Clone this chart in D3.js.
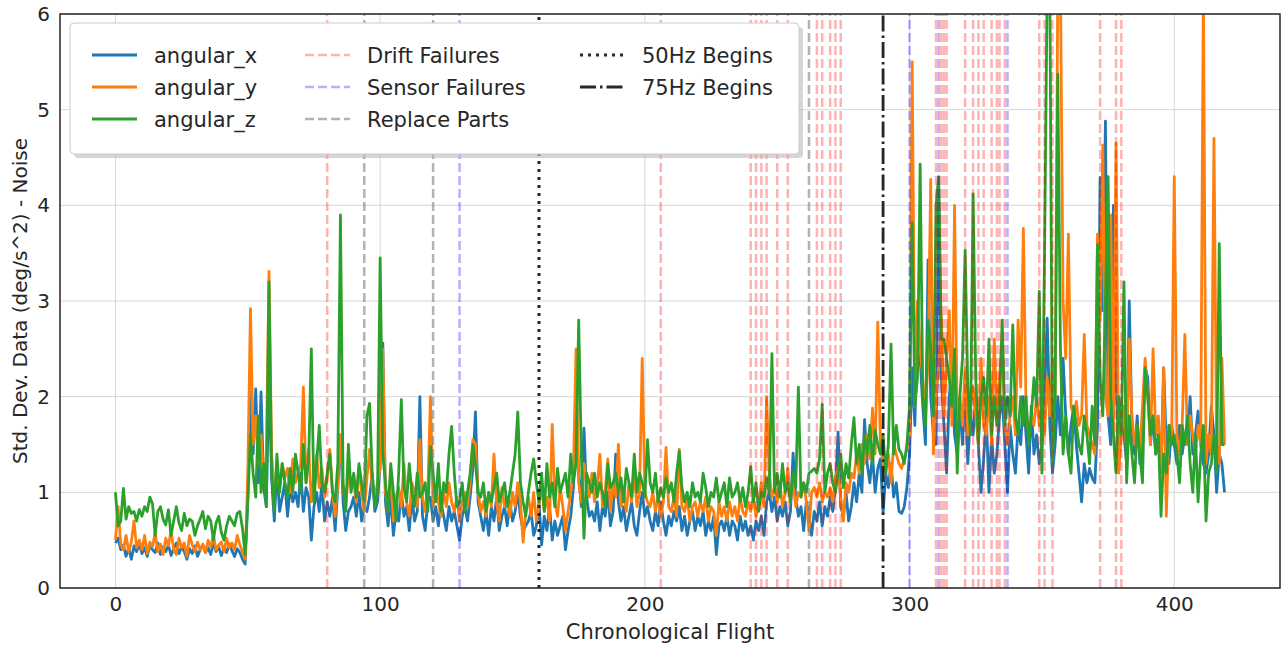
<!DOCTYPE html>
<html lang="en">
<head>
  <meta charset="UTF-8">
  <title>Noise per flight</title>
  <script src="https://cdn.jsdelivr.net/npm/d3@7"></script>
  <style>
    body { margin: 0; background: #fff; }
    svg text { font-family: 'DejaVu Sans', sans-serif; fill: #262626; }
    .tick text { font-size: 20px; fill: #262626; }
    .grid line { stroke: #d6d6d6; stroke-width: 1; }
  </style>
</head>
<body>
  <svg width="1281" height="648"></svg>
  <script>
    // std dev per flight, one value per flight 0..419
    const angularX = [
      0.47,0.52,0.40,0.45,0.33,0.42,0.30,0.44,0.38,0.46,
      0.36,0.42,0.33,0.45,0.40,0.37,0.47,0.35,0.43,0.38,
      0.45,0.34,0.41,0.47,0.36,0.43,0.38,0.30,0.41,0.36,
      0.44,0.33,0.40,0.45,0.37,0.42,0.35,0.47,0.38,0.43,
      0.34,0.42,0.37,0.46,0.39,0.33,0.41,0.37,0.30,0.25,
      0.95,2.05,1.40,2.08,1.10,2.05,1.05,0.85,2.25,1.15,
      0.70,1.25,0.80,0.95,1.10,0.75,1.05,0.90,1.00,0.85,
      1.20,0.80,1.05,0.95,0.50,0.85,1.00,0.80,1.10,0.70,
      0.90,0.75,0.95,0.60,1.05,1.60,0.90,0.60,0.80,0.85,
      0.95,0.75,1.00,0.70,0.85,0.80,0.95,1.20,0.80,0.90,
      1.30,2.56,0.90,0.65,0.95,0.55,0.80,0.70,1.00,0.75,
      0.85,0.60,0.95,0.70,0.80,2.00,0.75,0.60,0.90,0.95,
      0.70,0.85,0.65,0.90,0.75,0.60,0.85,0.70,0.80,0.65,
      0.50,0.75,0.85,0.70,0.95,1.25,1.84,0.90,0.75,0.60,
      0.80,0.55,0.85,0.70,0.95,0.60,0.75,0.85,0.65,0.90,
      0.70,0.80,1.00,0.75,0.60,0.65,0.70,0.80,0.55,0.65,
      0.90,0.45,0.75,0.60,0.85,0.50,0.70,0.55,0.65,0.75,
      0.40,0.60,0.75,1.05,1.80,1.20,0.85,1.67,0.95,0.75,
      0.80,0.70,0.90,0.60,0.85,0.75,1.00,0.65,0.80,1.40,
      0.90,0.70,0.85,0.60,0.75,0.90,0.65,0.55,0.80,1.00,
      0.75,0.85,0.70,0.60,0.80,0.65,0.90,0.70,0.55,0.75,
      0.65,0.80,0.70,0.85,0.60,0.75,0.55,0.70,0.80,0.60,
      0.75,0.65,0.80,0.55,0.70,0.60,0.75,0.35,0.65,0.70,
      0.60,0.75,0.55,0.70,0.65,0.50,0.75,0.60,0.70,0.55,
      0.65,0.50,0.70,0.60,0.75,0.55,0.90,1.00,0.80,0.95,
      0.70,0.85,0.75,0.90,0.65,0.80,1.41,0.95,0.75,0.85,
      0.60,0.90,0.75,0.55,0.80,0.70,0.90,0.65,0.85,0.75,
      0.95,0.80,1.05,1.63,0.85,0.75,1.00,0.70,0.85,1.10,
      0.90,1.20,1.00,1.76,1.30,1.10,1.40,1.00,1.25,1.35,
      0.78,1.20,1.05,1.30,0.95,1.10,0.80,0.78,0.85,1.05,
      1.40,2.30,1.70,2.80,2.40,1.90,1.50,3.43,2.00,1.60,
      1.50,4.20,2.20,1.70,1.20,2.00,2.30,1.60,1.40,1.90,
      1.50,2.10,1.30,1.80,1.60,2.00,1.50,1.00,1.35,1.80,
      1.00,1.60,1.20,1.40,1.80,2.00,1.50,1.00,1.70,1.40,
      1.20,1.70,1.50,2.00,1.60,1.20,1.90,1.40,1.60,1.30,
      1.50,2.00,2.82,1.70,1.20,1.50,2.00,1.60,2.40,1.80,
      1.40,1.70,1.90,1.50,1.20,0.90,1.30,1.10,1.25,1.15,
      1.10,1.70,4.29,2.90,4.88,1.80,1.50,4.00,2.20,1.40,
      1.80,1.60,1.30,3.00,1.70,1.40,1.80,1.30,1.60,2.30,
      2.20,1.50,1.80,1.40,1.60,1.20,2.30,1.50,1.30,1.70,
      1.50,1.30,1.70,1.40,1.60,1.50,2.00,1.40,1.60,1.85,
      1.50,1.30,1.20,1.40,1.90,1.60,1.00,1.40,1.30,1.00
    ];
    const angularY = [
      0.50,0.85,0.45,0.40,0.55,0.38,0.48,0.70,0.42,0.50,
      0.40,0.55,0.36,0.48,0.43,0.58,0.38,0.46,0.35,0.52,
      0.44,0.60,0.40,0.35,0.52,0.42,0.47,0.33,0.55,0.45,
      0.38,0.48,0.40,0.46,0.37,0.50,0.43,0.55,0.40,0.45,
      0.48,0.38,0.52,0.42,0.47,0.40,0.55,0.45,0.38,0.30,
      1.20,2.92,1.50,1.80,1.30,1.60,1.10,1.40,3.31,1.40,
      1.00,1.20,1.05,1.30,1.15,1.25,1.00,1.35,1.10,1.20,
      1.30,2.10,1.10,1.45,0.90,1.20,1.40,1.05,1.25,0.95,
      1.15,1.45,1.00,0.75,1.10,1.60,1.05,0.85,1.20,1.05,
      1.10,0.90,1.25,1.00,0.80,1.15,1.45,1.05,0.95,1.10,
      1.25,2.50,1.00,0.80,1.20,0.70,0.95,1.05,0.85,1.30,
      0.90,0.75,1.10,1.00,0.85,1.55,0.95,0.80,1.00,2.00,
      0.85,1.05,0.90,0.75,1.00,0.85,1.10,0.90,0.80,0.95,
      0.70,0.90,1.00,0.85,1.10,1.55,1.50,1.00,0.80,0.90,
      0.75,1.00,0.85,1.40,0.90,0.70,1.05,0.85,0.95,0.75,
      1.00,0.85,1.10,0.90,0.48,0.80,0.95,0.75,1.00,0.70,
      0.85,1.10,0.80,0.95,0.70,1.71,0.90,0.75,1.05,0.85,
      0.60,0.80,1.00,1.20,2.50,1.10,0.90,1.30,1.10,0.95,
      1.20,0.90,1.05,1.40,0.85,1.00,1.35,0.80,1.10,0.95,
      1.50,0.85,1.00,0.80,1.10,0.90,1.20,0.85,1.00,2.40,
      1.00,0.90,0.85,1.00,0.80,0.95,0.75,0.90,1.47,0.85,
      0.80,0.95,0.75,1.45,0.85,0.80,0.95,0.70,0.85,0.90,
      0.75,0.90,0.80,0.95,0.70,0.85,0.80,0.55,0.90,0.75,
      0.85,0.70,0.90,0.75,0.85,0.70,0.95,0.80,0.75,0.90,
      0.80,0.95,0.75,0.90,1.10,0.85,2.00,1.20,0.95,1.05,
      0.90,1.10,0.85,1.00,1.25,0.90,1.10,0.85,1.00,0.95,
      1.10,0.90,0.60,1.00,1.05,0.95,1.10,0.90,1.00,0.95,
      1.05,0.90,1.15,1.25,0.95,0.70,1.10,1.00,1.20,1.15,
      1.40,1.20,1.50,1.30,1.60,1.35,1.88,1.40,2.78,1.50,
      1.30,1.20,1.40,1.10,1.50,1.40,1.30,1.25,1.35,1.45,
      1.60,5.50,1.90,3.00,2.50,2.20,1.80,2.40,4.27,1.40,
      2.00,2.30,2.85,1.80,2.40,2.90,1.70,4.00,1.80,2.00,
      1.70,2.30,1.60,1.90,2.10,1.80,1.50,2.40,1.70,1.60,
      2.00,1.50,2.60,1.80,2.20,2.60,1.70,1.50,1.80,2.00,
      1.60,2.80,2.10,3.76,1.90,1.60,1.80,1.70,2.00,1.70,
      1.90,1.60,2.20,1.80,2.40,2.00,6.30,6.30,3.00,2.40,
      3.70,1.90,1.80,1.95,1.70,1.80,2.65,1.70,1.60,1.50,
      1.40,3.70,2.80,4.63,2.00,1.80,3.90,1.60,4.65,1.20,
      1.60,1.90,1.40,2.60,1.80,1.50,1.70,1.40,1.90,2.40,
      2.00,1.50,2.50,1.60,1.80,1.20,2.30,0.75,1.70,1.50,
      4.30,1.60,1.40,1.70,2.65,1.50,1.80,1.60,1.40,1.70,
      1.50,6.30,1.30,1.60,1.40,4.70,1.50,1.30,2.40,1.50
    ];
    const angularZ = [
      1.00,0.65,0.70,1.04,0.72,0.85,0.78,0.80,0.70,0.82,
      0.75,0.85,0.80,0.95,0.88,0.55,0.80,0.85,0.72,0.66,
      0.82,0.55,0.70,0.85,0.68,0.60,0.78,0.65,0.72,0.70,
      0.55,0.65,0.72,0.80,0.62,0.75,0.70,0.50,0.68,0.75,
      0.58,0.50,0.65,0.75,0.70,0.65,0.78,0.80,0.62,0.35,
      0.90,1.60,1.20,0.95,1.80,1.00,1.30,0.85,3.20,1.20,
      0.80,1.40,1.00,1.30,1.10,0.95,1.25,1.00,1.40,1.20,
      1.00,1.50,1.10,1.35,2.50,0.90,1.30,1.70,1.10,1.00,
      1.20,1.40,1.00,0.90,1.30,3.90,1.10,0.80,1.50,1.00,
      1.20,0.95,1.30,1.10,0.90,1.80,1.93,1.20,0.85,1.00,
      3.45,1.40,1.10,0.80,1.30,1.00,0.70,1.20,1.97,1.05,
      0.90,1.30,1.00,0.85,1.20,0.95,1.00,1.10,0.80,1.48,
      1.20,0.90,1.30,0.80,1.10,1.00,1.40,1.69,1.20,0.85,
      0.90,1.10,0.80,1.00,1.20,1.50,1.30,1.00,0.95,1.10,
      0.80,1.00,0.90,1.05,1.20,0.90,1.00,1.10,0.85,1.00,
      1.20,1.40,1.84,1.10,0.90,0.75,1.00,1.20,1.35,1.10,
      0.90,1.20,0.80,1.30,0.95,1.10,0.85,1.25,1.00,1.10,
      1.20,0.95,1.40,1.10,1.30,2.80,1.40,0.52,1.20,1.10,
      1.00,1.20,0.95,1.10,1.00,0.85,1.30,1.05,1.10,1.20,
      1.00,1.15,0.90,1.25,1.10,0.95,1.40,1.00,1.20,1.10,
      0.95,1.55,1.10,1.00,1.20,0.90,1.05,0.95,1.15,1.00,
      1.10,0.90,1.20,1.43,1.05,0.90,1.00,0.85,1.10,0.95,
      1.00,0.90,1.20,1.05,0.85,1.00,0.95,1.15,0.90,1.00,
      1.10,0.85,1.15,0.95,1.00,1.10,0.90,1.05,0.85,1.00,
      1.27,0.90,1.10,0.80,1.00,0.95,1.15,1.00,2.45,1.00,
      1.20,0.95,1.30,1.00,1.10,0.90,1.20,1.05,2.10,0.95,
      1.10,1.00,1.20,1.22,1.25,1.20,1.35,1.92,1.00,1.20,
      1.30,1.10,1.00,1.20,1.40,1.05,1.30,1.15,1.50,1.78,
      1.30,1.50,1.20,1.60,1.40,1.70,1.30,1.65,1.50,1.40,
      1.60,1.20,1.50,2.55,1.40,1.70,1.45,1.40,1.30,1.50,
      1.90,3.82,1.90,2.20,4.43,2.00,1.70,2.80,2.50,1.80,
      4.00,4.30,2.60,2.60,2.40,2.20,1.90,2.50,1.20,2.00,
      2.40,3.53,2.10,1.60,4.12,2.20,1.50,2.00,2.20,1.80,
      2.60,1.60,2.00,1.70,1.90,2.80,1.70,2.00,1.80,2.75,
      1.80,1.60,2.00,1.70,2.00,1.50,1.80,2.20,1.90,3.10,
      1.20,3.50,6.30,6.30,1.30,2.00,5.37,2.50,1.40,1.80,
      1.40,1.20,1.90,1.70,1.50,1.40,1.80,1.60,1.30,1.90,
      1.50,3.59,2.20,1.80,3.00,4.30,2.00,1.60,1.20,2.00,
      1.60,3.20,1.10,1.80,1.40,1.10,1.70,1.40,1.10,2.30,
      2.00,1.60,1.80,1.40,1.60,0.75,1.40,1.20,1.70,1.50,
      1.60,1.40,1.10,1.70,1.50,1.80,1.30,1.00,1.60,0.90,
      1.40,1.70,0.70,1.20,1.30,1.60,1.20,3.60,1.50,1.50
    ];

    // event markers (flight numbers)
    const driftFailures = [80, 206, 240, 242, 244, 246, 250, 254, 265, 267, 270, 272, 274,
      310, 312, 313, 314, 321, 324, 326, 328, 331, 333, 334, 336, 349, 351, 354, 372, 378, 380];
    const sensorFailures = [130, 300, 311, 337];
    const replaceParts = [94, 120, 262];
    const hz50 = [160];
    const hz75 = [290];

    const xTicks = [0, 100, 200, 300, 400];
    const yTicks = [0, 1, 2, 3, 4, 5, 6];

    const svg = d3.select('svg');
    const m = { left: 60, right: 1280, top: 14, bottom: 588 };

    const x = d3.scaleLinear().domain([-20.95, 439.95]).range([m.left, m.right]);
    const y = d3.scaleLinear().domain([0, 6]).range([m.bottom, m.top]);

    svg.append('defs').append('clipPath').attr('id', 'clip')
      .append('rect')
      .attr('x', m.left).attr('y', m.top)
      .attr('width', m.right - m.left).attr('height', m.bottom - m.top);

    // grid
    const grid = svg.append('g').attr('class', 'grid');
    grid.selectAll('.gx').data(xTicks).enter().append('line')
      .attr('x1', d => x(d)).attr('x2', d => x(d))
      .attr('y1', m.top).attr('y2', m.bottom);
    grid.selectAll('.gy').data(yTicks).enter().append('line')
      .attr('x1', m.left).attr('x2', m.right)
      .attr('y1', d => y(d)).attr('y2', d => y(d));

    const plot = svg.append('g').attr('clip-path', 'url(#clip)');

    const line = d3.line().x((d, i) => x(i)).y(d => y(d));
    const series = [
      { name: 'angular_x', values: angularX, color: '#1f77b4' },
      { name: 'angular_y', values: angularY, color: '#ff7f0e' },
      { name: 'angular_z', values: angularZ, color: '#2ca02c' }
    ];
    series.forEach(s => {
      plot.append('path')
        .datum(s.values)
        .attr('d', line)
        .attr('fill', 'none')
        .attr('stroke', s.color)
        .attr('stroke-width', 2.8)
        .attr('stroke-linejoin', 'round');
    });

    const markers = [
      { name: 'Drift Failures', data: driftFailures, color: 'rgba(255,0,0,0.3)', dash: '9,4', w: 2.5 },
      { name: 'Sensor Failures', data: sensorFailures, color: 'rgba(0,0,255,0.3)', dash: '9,4', w: 2.5 },
      { name: 'Replace Parts', data: replaceParts, color: 'rgba(128,128,128,0.6)', dash: '9,4', w: 2.5 },
      { name: '50Hz Begins', data: hz50, color: '#262626', dash: '3,5', w: 3 },
      { name: '75Hz Begins', data: hz75, color: '#262626', dash: '16,4,2.5,4', w: 2.8 }
    ];
    markers.forEach(mk => {
      plot.selectAll(null).data(mk.data).enter().append('line')
        .attr('x1', d => x(d)).attr('x2', d => x(d))
        .attr('y1', m.bottom).attr('y2', m.top)
        .attr('stroke', mk.color)
        .attr('stroke-width', mk.w)
        .attr('stroke-dasharray', mk.dash);
    });

    // frame
    svg.append('rect')
      .attr('x', m.left).attr('y', m.top)
      .attr('width', m.right - m.left).attr('height', m.bottom - m.top)
      .attr('fill', 'none').attr('stroke', '#262626').attr('stroke-width', 1.5);

    // axes
    svg.append('g')
      .attr('transform', `translate(0,${m.bottom})`)
      .call(d3.axisBottom(x).tickValues(xTicks).tickSize(0).tickPadding(9))
      .call(g => g.select('.domain').remove());
    svg.append('g')
      .attr('transform', `translate(${m.left},0)`)
      .call(d3.axisLeft(y).tickValues(yTicks).tickFormat(d3.format('d')).tickSize(0).tickPadding(10))
      .call(g => g.select('.domain').remove());

    svg.append('text')
      .attr('x', (m.left + m.right) / 2).attr('y', 639)
      .attr('text-anchor', 'middle')
      .style('font-size', '21px')
      .text('Chronological Flight');
    svg.append('text')
      .attr('transform', `translate(27,${(m.top + m.bottom) / 2}) rotate(-90)`)
      .attr('text-anchor', 'middle')
      .style('font-size', '20px')
      .text('Std. Dev. Data (deg/s^2) - Noise');

    // legend
    const leg = svg.append('g');
    leg.append('rect')
      .attr('x', 74).attr('y', 27).attr('width', 729).attr('height', 131)
      .attr('rx', 4).attr('fill', '#bbb').attr('opacity', 0.6);
    leg.append('rect')
      .attr('x', 70).attr('y', 23).attr('width', 729).attr('height', 131)
      .attr('rx', 4).attr('fill', '#fff').attr('stroke', '#ccc').attr('stroke-width', 1);

    const items = series.map(s => ({ name: s.name, color: s.color, dash: null, w: 2.8 }))
      .concat(markers.map(mk => ({ name: mk.name, color: mk.color, dash: mk.dash, w: mk.w })));
    const cols = [92, 305, 580];
    items.forEach((it, i) => {
      const c = Math.floor(i / 3), r = i % 3;
      const cx = cols[c], cy = 55 + r * 32;
      leg.append('line')
        .attr('x1', cx).attr('x2', cx + 45)
        .attr('y1', cy).attr('y2', cy)
        .attr('stroke', it.color).attr('stroke-width', it.w)
        .attr('stroke-dasharray', it.dash);
      leg.append('text')
        .attr('x', cx + 62).attr('y', cy + 7.5)
        .style('font-size', '21px')
        .text(it.name);
    });
  </script>
</body>
</html>
